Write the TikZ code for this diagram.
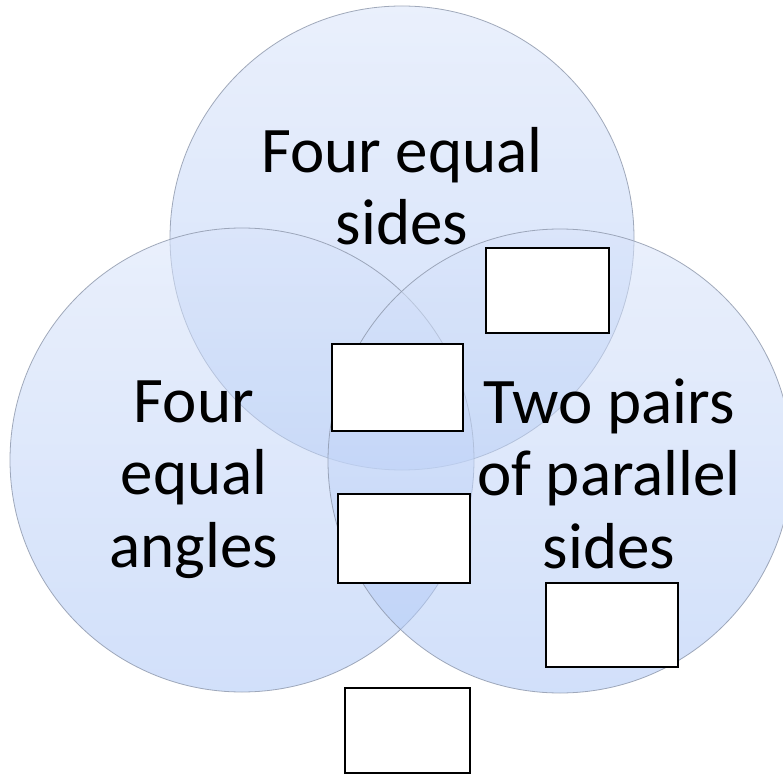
\documentclass[tikz,border=0pt]{standalone}
\usepackage{fontspec}
\setmainfont{Carlito}
\begin{document}
\begin{tikzpicture}[x=1pt,y=1pt]
\tikzset{
  venn/.style={top color=vtop, bottom color=vbot, fill opacity=0.55, draw=vedge, draw opacity=0.8, line width=0.8pt},
  blank/.style={draw=black, fill=white, line width=1.4pt, rectangle, inner sep=0pt},
  lbl/.style={font=\fontsize{65}{72.5}\selectfont, align=center, inner sep=0pt, anchor=base, text=black}
}
\definecolor{vtop}{RGB}{217,228,250}
\definecolor{vbot}{RGB}{173,199,246}
\definecolor{vedge}{RGB}{140,150,170}
\useasboundingbox (0,0) rectangle (783,774);
\fill[white] (0,0) rectangle (783,774);
\begin{scope}
\clip (0,0) rectangle (783,774);
\shade[venn] (402,536) circle (232);
\shade[venn] (242,314) circle (232);
\shade[venn] (560,313) circle (232);
\end{scope}
\node[lbl] (tsides) at (402,529) {Four equal\\sides};
\node[lbl] (tangles) at (194,207) {Four\\equal\\angles};
\node[lbl] (tpar) at (609,206) {Two pairs\\of parallel\\sides};
\node[blank, minimum width=123pt, minimum height=85pt] (b1) at (547.5,483.5) {};
\node[blank, minimum width=131pt, minimum height=87pt] (b2) at (397.5,386.5) {};
\node[blank, minimum width=132pt, minimum height=89pt] (b3) at (404,235.5) {};
\node[blank, minimum width=132pt, minimum height=84pt] (b4) at (612,149) {};
\node[blank, minimum width=125pt, minimum height=85pt] (b5) at (407.5,43.5) {};
\end{tikzpicture}
\end{document}
